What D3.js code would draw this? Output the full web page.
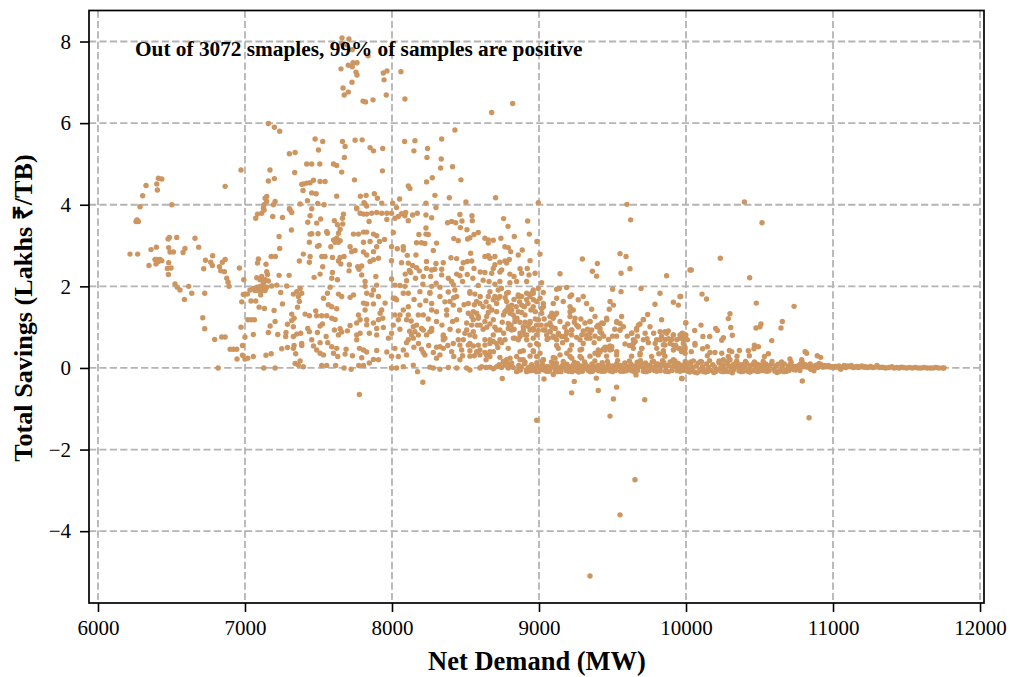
<!DOCTYPE html>
<html><head><meta charset="utf-8">
<script src="https://cdn.jsdelivr.net/npm/d3@7/dist/d3.min.js"></script>
<style>html,body{margin:0;padding:0;background:#fff}svg{display:block}text{font-family:"Liberation Serif","Times New Roman",serif;fill:#000}</style>
</head><body><div id="chart"></div>
<script>
const xTicks=[6000,7000,8000,9000,10000,11000,12000];
const yTicks=[-4,-2,0,2,4,6,8];
const xLabel="Net Demand (MW)";
const yLabel="Total Savings (Lakhs ₹/TB)";
const note="Out of 3072 smaples, 99% of samples are positive";
const topCluster=[[7660,8.09],[7707,8.06],[7658,7.96],[7692,7.92],[7730,7.8],[7837,7.65],[7703,7.42],[7735,7.48],[7762,7.48],[7730,7.38],[7653,7.33],[7755,7.25],[7762,7.18],[7728,7],[7667,6.86],[7703,6.76],[7675,6.69],[7803,6.54],[7820,6.52],[7871,6.57],[7961,6.69],[7946,7.06],[7941,7.23],[7966,7.28],[8061,7.26],[8088,6.59],[8678,6.26],[8821,6.48]];
const upperLeft=[[7159,5.99],[7200,5.9],[7236,5.8],[7477,5.61],[7529,5.55],[7663,5.55],[7749,5.58],[7797,5.59],[7681,5.43],[7851,5.4],[7874,5.32],[7937,5.38],[7500,5.34],[7302,5.25],[7341,5.28],[7676,5.16],[7420,5],[7454,5],[7509,5],[7602,5],[7624,4.96],[6973,4.85],[7170,4.85],[7935,4.83],[7338,4.79],[7658,4.8],[7200,4.64],[7159,4.58],[7745,4.61],[7466,4.6],[7511,4.57],[7545,4.57],[7397,4.51],[7420,4.53],[7443,4.54],[7386,4.5],[6865,4.45],[7395,4.35],[7454,4.29],[7484,4.27],[7624,4.21],[7785,4.21],[7824,4.23],[7880,4.27],[7901,4.16],[7148,4.2],[7137,4.16],[7205,4.08],[7130,4],[7425,4.1],[7375,4.02],[7495,4.03],[7538,4],[7810,4.05],[7828,3.97],[7930,4.04],[7760,3.92],[7302,3.9],[7454,3.9],[7125,3.92],[6411,4.65],[6434,4.63],[6327,4.47],[6400,4.51],[6404,4.36],[6304,4.22],[6286,3.95],[6502,4]];
const leftArc=[[6266,3.63],[6259,3.59],[6275,3.59],[6486,3.2],[6477,3.16],[6536,3.2],[6660,3.18],[6481,2.95],[6397,2.96],[6361,2.9],[6592,2.93],[6579,2.83],[6685,2.96],[6490,2.84],[6513,2.84],[6218,2.79],[6270,2.79],[6780,2.75],[6731,2.64],[6767,2.59],[6778,2.51],[6865,2.66],[6846,2.59],[6826,2.48],[6835,2.38],[6860,2.36],[6719,2.43],[6962,2.45],[6400,2.66],[6422,2.66],[6388,2.66],[6411,2.61],[6434,2.63],[6395,2.55],[6347,2.51],[6481,2.58],[6472,2.44],[6497,2.45],[6479,2.29],[6876,2.2],[6885,2.1],[6892,2],[6992,2.16],[6524,2.06],[6540,1.98],[6558,1.91],[6617,2],[6638,1.83],[6588,1.68],[6726,1.83],[6713,1.23],[6726,0.96],[6794,0.7],[6842,0.76],[6865,0.76],[6899,0.46],[6921,0.46],[6944,0.46],[6983,0.55],[6973,1],[7000,0.76],[6946,0.22],[6983,0.31],[7000,0.22],[7019,0.24],[7057,0.28],[6817,0],[7057,0.82],[7019,1.18],[7041,1.18],[7064,1.18],[6978,1.62],[7041,1.64],[7073,1.64],[7096,1.49],[7132,1.46],[7198,1.41],[7255,1.57]];
const knot7100=[[6989,1.8],[7016,1.81],[7034,1.91],[7057,1.95],[7080,1.98],[7103,2],[7125,2.01],[7148,1.98],[7068,1.9],[7091,1.9],[7114,1.9],[7137,1.9],[7080,2.21],[7114,2.24],[7137,2.16],[7159,2.13],[7103,2.16],[7125,2.08],[7148,2.36],[7153,2.29],[7232,2.27],[7300,2.27],[7216,2.03],[7284,2.01],[7182,2.01],[7243,1.85],[7107,1.79],[7091,2.67],[7085,2.57],[7143,2.54],[7178,2.73],[7207,2.73],[7236,2.93],[7232,3.22],[7316,3.38],[7073,3.67],[7085,3.77],[7114,3.79],[7130,3.87],[7148,4.08],[7189,3.71],[7255,3.69],[7307,3.87],[7318,3.81],[7193,4]];
const midUpper=[[7443,3.73],[7427,3.57],[7488,3.55],[7515,3.65],[7608,3.61],[7629,3.51],[7670,3.77],[7663,3.67],[7665,3.53],[7647,3.4],[7636,3.3],[7443,3.28],[7454,3.29],[7497,3.29],[7556,3.34],[7561,3.3],[7438,3.08],[7493,2.98],[7504,3],[7602,3.14],[7624,3.18],[7647,3.12],[7613,3.08],[7636,3.08],[7584,2.97],[7715,2.97],[7397,2.79],[7443,2.73],[7370,2.62],[7438,2.59],[7522,2.73],[7545,2.73],[7595,2.71],[7647,2.71],[7674,2.73],[7636,2.62],[7652,2.55],[7726,2.85],[7749,2.88],[7710,2.53],[7708,2.38],[7767,2.48],[7794,2.5],[7776,2.42],[7794,2.28],[7529,2.48],[7511,2.3],[7470,2.22],[7595,2.34],[7590,2.2],[7629,2.16],[7890,2.24],[7817,2.12],[7817,2],[7828,1.83],[7896,2.03],[7874,1.91],[7862,1.79],[7908,1.75],[7738,3.28],[7772,3.28],[7806,3.33],[7828,3.33],[7874,3.28],[7896,3.24],[7806,3.08],[7851,3.1],[7915,3.1],[7949,3.15],[7896,2.97],[7874,2.85],[7806,2.84],[7828,2.77],[7908,2.69],[7874,2.65],[7851,2.61],[7783,3.79],[7760,3.9],[7806,3.77],[7828,3.77],[7862,3.79],[7896,3.81],[7930,3.79],[7844,3.59],[7965,3.64],[7965,3.79],[7817,4.02]];
const midLower=[[7329,1.81],[7352,1.87],[7375,1.95],[7386,1.83],[7363,1.75],[7370,1.63],[7357,1.49],[7534,1.71],[7561,1.83],[7579,1.98],[7636,1.81],[7658,1.75],[7715,1.73],[7738,1.79],[7567,1.55],[7590,1.5],[7624,1.45],[7806,1.59],[7828,1.57],[7817,1.42],[7874,1.57],[7953,1.59],[7930,1.42],[7919,1.34],[7318,1.32],[7334,1.22],[7318,1.16],[7409,1.32],[7438,1.28],[7481,1.4],[7488,1.28],[7522,1.28],[7556,1.28],[7590,1.22],[7613,1.19],[7527,1.08],[7511,1.03],[7289,1.07],[7329,1.01],[7427,0.97],[7438,0.89],[7493,0.87],[7608,0.93],[7647,0.96],[7658,0.88],[7697,0.91],[7715,1.04],[7760,1.1],[7772,1.3],[7783,1.18],[7828,1.18],[7828,1.06],[7874,1.1],[7896,0.97],[7941,0.99],[7937,1.22],[7908,1.18],[7205,1.14],[7171,1.03],[7159,0.87],[7223,0.82],[7279,0.87],[7277,0.77],[7329,0.77],[7352,0.83],[7379,0.85],[7454,0.69],[7511,0.62],[7552,0.77],[7563,0.62],[7590,0.52],[7624,0.48],[7636,0.81],[7760,0.81],[7783,0.85],[7760,0.69],[7846,0.85],[7896,0.81],[7976,0.73],[7250,0.47],[7289,0.5],[7334,0.55],[7329,0.48],[7386,0.6],[7386,0.55],[7466,0.54],[7488,0.44],[7511,0.36],[7534,0.32],[7602,0.36],[7631,0.28],[7688,0.46],[7681,0.34],[7731,0.3],[7779,0.48],[7806,0.44],[7828,0.39],[7794,0.25],[7896,0.43],[7965,0.39],[7874,0.21],[7908,0.2],[7143,0.31],[7178,0.35],[7345,0.35],[7375,0.17],[7341,0.11],[7363,0.07],[7397,0.03],[7522,0.06],[7556,0.06],[7617,0.06],[7674,0],[7722,-0.03],[7774,0.06],[7806,0.06],[7846,0.12],[7128,0],[7205,0],[7778,-0.65]];
const rightUpper=[[8428,5.83],[8338,5.61],[8086,5.55],[8156,5.57],[8242,5.38],[8149,5.32],[8238,5.16],[8335,5.12],[8331,4.9],[8412,4.93],[8469,4.61],[8274,4.66],[8235,4.56],[8111,4.46],[8122,4.4],[8292,4.23],[8052,4.14],[8390,4.17],[8503,4.07],[8705,4.17],[8231,4.04],[8004,4.04],[8995,4.05],[9598,4.01],[9623,3.63],[8299,3.93],[8031,3.93],[7997,3.79],[8020,3.67],[8043,3.71],[8065,3.78],[8093,3.81],[8088,3.73],[8111,3.61],[8140,3.75],[8172,3.79],[8231,3.75],[8270,3.68],[8462,3.76],[8544,3.73],[8546,3.61],[8378,3.56],[8406,3.59],[8433,3.56],[8476,3.6],[8759,3.66],[8923,3.6],[8789,3.47],[8231,3.43],[8465,3.44],[8510,3.39],[8009,3.32],[8183,3.27],[8231,3.28],[8247,3.27],[8587,3.32],[8558,3.27],[8530,3.19],[8514,3.16],[8421,3.17],[8451,3.12],[8632,3.18],[8655,3.14],[8689,3.13],[8741,3.18],[8832,3.22],[8934,3.28],[8655,3.06],[8986,3.1],[8167,3.07],[8201,3.07],[8224,3.05],[8303,3.06],[7997,2.97],[8036,2.92],[8077,2.97],[8077,2.89],[8281,2.88],[8768,2.97],[8791,2.95],[8807,2.85],[8886,2.89],[8859,2.77],[8104,2.76],[8163,2.77],[8535,2.81],[9007,2.79],[9551,2.8],[9592,2.73],[9295,2.67],[9397,2.56],[8401,2.7],[8440,2.68],[8632,2.73],[8655,2.75],[8666,2.69],[8700,2.73],[8734,2.59],[8768,2.62],[8798,2.66],[8780,2.57],[8939,2.63],[7997,2.63],[8065,2.58],[8111,2.57],[8235,2.61],[8299,2.56],[8349,2.58],[8485,2.58],[8512,2.61],[8542,2.62],[8700,2.53],[8689,2.44],[8140,2.51],[8167,2.46],[8235,2.44],[8292,2.42],[8474,2.44],[8558,2.44],[8746,2.4],[8871,2.43],[8920,2.44],[8882,2.32],[8118,2.39],[8127,2.34],[8186,2.38],[8338,2.42],[8270,2.4],[8632,2.34],[8678,2.32],[8734,2.35],[8802,2.3],[8830,2.24],[8973,2.32],[8932,2.28],[8213,2.24],[8263,2.24],[8338,2.28],[8383,2.2],[8462,2.26],[8512,2.29],[8405,2.12],[8417,2.04],[8660,2.12],[8734,2.12],[8802,2.09],[8848,2.12],[8916,2.12],[9143,2.31],[9363,2.37],[9392,2.25],[9558,2.32],[9619,2.43],[9868,2.26],[9018,2.09],[8099,2.14],[7997,2.18],[8587,2.02],[9120,1.93],[9188,1.97],[9501,1.93],[9558,1.87],[9694,1.95],[9823,1.83],[9959,1.75],[10027,2.4],[8054,2.02],[8020,2.03],[8088,2],[8270,2],[8326,1.98],[8428,1.91],[8530,1.87],[8564,1.81],[8190,1.87],[8258,1.85],[8077,1.83],[8383,1.86],[8666,1.87],[8723,1.91],[8791,1.85],[8859,1.79],[8961,1.91],[8995,1.95],[9029,1.85],[9138,1.95],[9222,1.79],[9301,1.75],[8326,1.75],[8440,1.75],[8655,1.75],[8734,1.75],[8939,1.75],[8020,1.71]];
const rightLower=[[8009,1.71],[8031,1.67],[8111,1.83],[8258,1.83],[8394,1.63],[8530,1.83],[8576,1.63],[8598,1.58],[8519,1.58],[8700,1.75],[8712,1.58],[8780,1.83],[8859,1.75],[8882,1.75],[8961,1.83],[9007,1.71],[9029,1.58],[9120,1.71],[9097,1.58],[9165,1.63],[9211,1.75],[9267,1.67],[9324,1.58],[9483,1.63],[9506,1.54],[9789,1.56],[9914,1.61],[9948,1.54],[8111,1.5],[8190,1.54],[8270,1.58],[8270,1.42],[8303,1.38],[8417,1.54],[8372,1.42],[8791,1.5],[8814,1.42],[8859,1.38],[9018,1.46],[9211,1.38],[9233,1.42],[9358,1.44],[9478,1.44],[8020,1.3],[8054,1.3],[8077,1.42],[8111,1.3],[8179,1.3],[8213,1.3],[8372,1.3],[8519,1.34],[8576,1.34],[8655,1.36],[8712,1.38],[8825,1.3],[8882,1.36],[9075,1.26],[9120,1.34],[9211,1.26],[9245,1.22],[9381,1.26],[9562,1.26],[9739,1.31],[9834,1.18],[8043,1.18],[8099,1.18],[8167,1.05],[8247,1.2],[8303,1.14],[8412,1.14],[8440,1.18],[8553,1.18],[8587,1.22],[8632,1.14],[8689,1.18],[8791,1.09],[8836,1.14],[8939,1.14],[9097,1.22],[9143,1.14],[9347,1.14],[9460,1.22],[9437,1.09],[9528,1.12],[9551,1.09],[9710,1.19],[9687,1.08],[9999,1.11],[8009,1.05],[8054,0.95],[8145,1.01],[8201,0.97],[8270,0.97],[8542,1.05],[8580,1.05],[8666,1.08],[8791,0.97],[8893,1.01],[8984,1.05],[9052,1.05],[9086,1.01],[9256,1.05],[9403,1.05],[9415,0.97],[9574,1.01],[9755,1.01],[9664,0.97],[7997,0.85],[8156,0.89],[8179,0.81],[8213,0.93],[8270,0.91],[8451,0.91],[8508,0.93],[8553,0.89],[8712,0.93],[8734,0.93],[8814,0.93],[8893,0.89],[8939,0.93],[8961,0.97],[9041,0.93],[9075,0.89],[9109,0.97],[9188,0.89],[9222,0.93],[9267,1.01],[9301,0.91],[9347,0.85],[9426,0.85],[9551,0.93],[9630,0.85],[9664,0.93],[9857,0.89],[9880,0.91],[8235,0.81],[8349,0.81],[8530,0.81],[8689,0.81],[8871,0.77],[8905,0.81],[8984,0.81],[9052,0.81],[9097,0.78],[9131,0.81],[9222,0.81],[9256,0.75],[9324,0.81],[9381,0.78],[9528,0.78],[9834,0.78],[9914,0.81],[9959,0.81],[9999,0.81],[8111,0.69],[8145,0.73],[8360,0.73],[8349,0.69],[8451,0.69],[8485,0.69],[8564,0.77],[8632,0.69],[8689,0.65],[8734,0.69],[8836,0.73],[8859,0.69],[8916,0.69],[8961,0.73],[9063,0.73],[9120,0.69],[9177,0.77],[9188,0.69],[9279,0.69],[9347,0.73],[9472,0.7],[9642,0.69],[9710,0.69],[9800,0.69],[9857,0.69],[9902,0.7],[9982,0.69],[8020,0.48],[8099,0.62],[8149,0.51],[8201,0.46],[8326,0.52],[8303,0.51],[8462,0.56],[8417,0.6],[8519,0.56],[8553,0.54],[8587,0.56],[8632,0.56],[8666,0.6],[8712,0.6],[8746,0.62],[8791,0.48],[8939,0.56],[8984,0.6],[9131,0.48],[9222,0.56],[9301,0.6],[9483,0.54],[9449,0.51],[9585,0.59],[9642,0.6],[9744,0.62],[9857,0.56],[9914,0.56],[9948,0.48],[9993,0.51],[8077,0.44],[8213,0.38],[8281,0.38],[8349,0.48],[8406,0.4],[8474,0.44],[8530,0.42],[8576,0.4],[8632,0.38],[8666,0.4],[8871,0.4],[8893,0.42],[8961,0.42],[9211,0.44],[9290,0.46],[9403,0.44],[9437,0.46],[9494,0.46],[9699,0.48],[9846,0.42],[9970,0.4],[7997,0.29],[8043,0.28],[8099,0.32],[8326,0.32],[8303,0.24],[8224,0.32],[8462,0.2],[8530,0.29],[8598,0.32],[8644,0.32],[8734,0.26],[8848,0.28],[8939,0.29],[9007,0.36],[9097,0.26],[9143,0.32],[9211,0.28],[9290,0.24],[9347,0.29],[9403,0.32],[9460,0.29],[9528,0.32],[9630,0.29],[9687,0.32],[9766,0.28],[9857,0.29],[9914,0.2]];
const denseCore=[[8803,1.34],[8837,1.22],[8780,1.42],[8758,1.3],[8871,1.75],[8916,1.83],[8962,1.67],[9030,1.5],[9018,1.34],[8996,1.18],[8894,0.93],[8871,0.85],[8916,0.81],[9075,1.1],[9109,0.97],[9132,0.85],[9075,0.89],[9030,0.93],[9155,0.77],[9189,0.85],[9223,0.93],[9268,1.01],[9291,0.81],[9325,0.73],[9359,0.93],[9393,1.01],[9427,1.1],[9461,1.18],[9415,0.89],[9313,1.1],[9347,1.14],[9529,1.14],[9551,0.93],[9631,0.85],[9676,1.05],[9710,1.18],[9722,0.85],[9654,0.65],[9642,0.48],[9699,0.48],[9688,0.36],[9381,0.36],[9415,0.4],[9449,0.44],[9483,0.44],[9529,0.4],[9461,0.5],[9495,0.52],[9824,0.89],[9869,0.85],[9914,0.81],[9960,0.73],[9937,0.69],[9892,0.6],[9846,0.57],[9982,0.6],[9824,0.69],[9801,0.48],[9846,0.36],[9914,0.44],[9960,0.48],[9994,0.36],[9279,0.28],[9189,0.36],[9223,0.24],[9109,0.24],[9279,0.44],[8962,0.4],[8996,0.57],[9030,0.2],[8871,0.2],[8803,0.24],[8769,0.69],[8826,0.73],[8962,0.93],[8939,1.1],[9087,1.34],[9109,1.3],[9223,1.42],[9211,1.5],[8780,1.63],[8814,1.54],[8768,1.38],[8882,1.54],[8916,1.67],[8950,1.83],[8984,1.63],[8961,1.5],[8689,1.67],[8723,1.71],[8644,1.26],[8587,1.26],[8553,1.38],[8542,1.26],[8508,1.1],[8496,0.85],[8133,0.81],[8258,0.89],[8349,0.77],[8666,0.69],[8530,0.6],[8598,0.44],[8666,0.28],[8780,0.2],[8814,0.12],[8757,0.16],[8893,0.2],[8984,0.28],[9029,0.2]];
const coreFill=[[8700,2.05],[8745,1.95],[8770,1.72],[8830,1.68],[8845,1.5],[8868,1.62],[8900,1.5],[8925,1.58],[8945,1.42],[8975,1.38],[8905,1.3],[8850,1.22],[8870,1.12],[8810,1.05],[8830,0.95],[8905,1.12],[8925,1.02],[8975,1.2],[8995,0.92],[9015,1.05],[9035,1.2],[9055,0.7],[9095,0.75],[9120,0.55],[9160,0.62],[9175,1],[9195,1.08],[9240,1.12],[9285,1.2],[9330,0.95],[9375,0.62],[9410,0.72],[9440,0.78],[9500,0.78],[9515,0.95],[9600,0.78],[9615,0.55],[9670,0.78],[9735,0.72],[9780,0.85],[9790,0.6],[9815,0.35],[9880,0.72],[9930,0.55],[9975,0.85],[8600,1.75],[8620,1.5],[8640,1.62],[8660,1.5],[8680,1.42],[8600,1.05],[8620,0.95],[8645,1],[8700,1],[8750,1.12],[8760,0.85],[8720,0.5],[8690,0.4],[8640,0.2],[8560,0.3],[8480,0.3],[8420,0.28],[8380,0.55],[8250,0.55],[8180,0.6],[8120,0.9],[8130,1.15],[8340,1.05],[8395,0.95],[8460,1.42],[8490,1.55],[8560,1.55],[8420,1.72],[8360,1.62],[8150,1.68],[8230,1.65],[8210,2.05],[8300,2.08],[8440,2.3],[8480,2.12],[8550,2.2],[8600,2.35],[8620,2.15],[8090,2.3],[8160,2.2]];
const farRight=[[10397,4.07],[10517,3.56],[10233,2.69],[10036,2.4],[10433,2.21],[10109,1.81],[10140,1.69],[10478,1.59],[10735,1.51],[9964,1.75],[10299,1.33],[10288,1.21],[10655,1.14],[10646,0.98],[10510,1.08],[10503,1.01],[10476,0.98],[9998,1.1],[10102,1.05],[10202,0.97],[10213,0.92],[10304,0.99],[10059,0.92],[9986,0.83],[9982,0.77],[10115,0.77],[10161,0.77],[10254,0.74],[10243,0.68],[10315,0.8],[10583,0.67],[10009,0.69],[10061,0.6],[10061,0.56],[10145,0.52],[10113,0.47],[9993,0.46],[10036,0.4],[9966,0.44],[10163,0.38],[10197,0.38],[10243,0.36],[10145,0.3],[10295,0.43],[10311,0.4],[10363,0.43],[10347,0.29],[10424,0.42],[10431,0.3],[10465,0.56],[10492,0.52],[10462,0.47],[10560,0.35],[10533,0.28],[10810,0.4],[10821,0.36],[10893,0.3],[10916,0.26],[10707,0.22],[10787,0.2],[10288,0.28],[10254,0.2],[10032,0.15],[10106,0.15],[10299,0.2]];
const negatives=[[8750,-0.26],[9034,-0.27],[9097,-0.16],[9240,-0.33],[8210,-0.35],[8174,-0.09],[9390,-0.25],[9660,-0.17],[9973,-0.26],[9528,-0.47],[9403,-0.55],[9222,-0.61],[9506,-0.76],[9719,-0.78],[9483,-1.18],[8984,-1.28],[9653,-2.74],[9551,-3.6],[9347,-5.1],[10837,-1.22],[10791,-0.32],[9970,-0.26]];
const zeroBand=[[7997,0],[8031,0],[8077,0.03],[8145,0.07],[8258,0.02],[8281,0],[8326,-0.03],[8383,0.01],[8440,0],[8508,0],[8530,-0.05],[8598,0],[8666,0.02],[8712,0.03],[8768,0.07],[8791,0],[8848,-0.09],[8916,-0.09],[8984,-0.09],[8610,0.03],[8640,0.01],[8690,-0.02],[8730,0.08],[8745,0.01],[8780,0.12],[8805,0.04],[8825,0.01],[8862,0.06],[8880,0.02],[8900,0.1],[8930,0.02],[8950,0.08],[8970,0.01],[8995,0.05],[9012,-0.04],[9025,0.08],[9040,0.02],[9058,0.04],[9075,-0.02],[9090,0.07],[9105,0.03],[9118,0.12],[9132,0.02],[9146,-0.04],[9160,0.06],[9175,0.01],[9190,0.09],[9205,0.03],[9218,-0.03],[9232,0.07],[9248,0.02],[9262,0.11],[9276,0.01],[9290,0.05],[9305,-0.02],[9318,0.08],[9332,0.03],[9346,0],[9360,0.1],[9374,0.04],[9388,-0.03],[9402,0.06],[9416,0.02],[9430,0.13],[9444,0.03],[9458,-0.02],[9472,0.08],[9486,0.02],[9500,0.05],[9514,-0.01],[9528,0.1],[9542,0.03],[9556,0.06],[9570,0],[9584,0.12],[9598,0.04],[9612,0.02],[9626,0.09],[9640,-0.02],[9654,0.05],[9668,0.14],[9682,0.03],[9696,0.08],[9710,0.01],[9724,0.12],[9738,0.04],[9752,0.07],[9766,0.02],[9780,0.16],[9794,0.05],[9808,0.1],[9822,0.02],[9836,0.08],[9850,0.13],[9864,0.03],[9878,0.06],[9892,0.15],[9906,0.02],[9920,0.09],[9934,0.04],[9948,0.11],[9962,0.02],[9976,0.07],[9990,0.01],[10004,0.08],[10018,-0.03],[10030,0.09],[10044,0.02],[10058,-0.1],[10070,0.05],[10084,0.12],[10098,-0.03],[10112,0.03],[10126,-0.07],[10140,0.1],[10154,0.01],[10168,-0.06],[10182,0.08],[10196,0.02],[10210,-0.04],[10224,0.13],[10238,0.03],[10252,0.08],[10266,-0.02],[10280,0.11],[10294,0.05],[10308,0.01],[10322,-0.05],[10324,0.09],[10340,0.03],[10356,0.1],[10370,0.01],[10384,0.08],[10398,0.03],[10412,0.11],[10426,-0.02],[10440,0.06],[10444,-0.06],[10458,0.1],[10472,0.02],[10486,0.09],[10500,0],[10514,0.07],[10528,0.03],[10542,0.1],[10556,0.01],[10570,0.06],[10584,0.1],[10598,-0.03],[10612,0.05],[10626,0.09],[10640,-0.07],[10654,0.03],[10668,0.1],[10682,-0.04],[10696,0.05],[10710,0.08],[10724,0.01],[10738,0.04],[10752,0.02],[10766,0.06],[10780,0.1],[10790,0.14],[10800,0.03],[10812,0.08],[10824,0.02],[10836,0.05],[10848,-0.03],[10860,0.02],[10872,0.04],[10884,0.07],[10896,0.01],[10908,0.05],[10920,0.08],[10932,0.02],[10944,0.06],[10956,0.03],[10968,0.06],[10980,0.02],[10992,0.03],[11004,0.01],[11016,0.04],[11028,0.02],[11040,0.05],[11052,-0.03],[11064,0.02],[11076,0.06],[11088,0.01],[11100,0.05],[11112,0.03],[11124,0.06],[11136,0.01],[11148,0.02],[11160,0.04],[11172,0.01],[11184,0.03],[11196,0.05],[11208,0.02],[11220,0.03],[11232,0.01],[11244,0.02],[11256,0.04],[11270,0.01],[11285,0.02],[11300,0.06],[11315,0.01],[11330,0.02],[11345,0.01],[11360,0],[11380,0.01],[11400,0.03],[11415,0],[11435,0.01],[11450,0],[11465,0.02],[11480,0.01],[11500,0],[11520,0.01],[11540,0],[11560,0.01],[11580,0],[11600,0],[11620,0.01],[11640,0],[11660,0],[11680,0],[11700,0.01],[11720,0],[11745,0],[11755,0]];
const zeroEdge=[[8860,-0.06],[8905,0.14],[8940,-0.07],[8985,0.13],[9020,0.16],[9050,-0.08],[9085,0.15],[9125,-0.09],[9165,0.16],[9200,-0.08],[9240,0.14],[9270,-0.1],[9310,0.15],[9350,-0.09],[9380,0.17],[9425,-0.08],[9465,0.16],[9500,-0.09],[9535,0.18],[9575,-0.08],[9615,0.17],[9650,-0.1],[9690,0.18],[9730,-0.09],[9770,0.15],[9800,-0.08],[9840,0.18],[9880,-0.09],[9925,0.17],[9960,-0.08],[9995,0.16],[10025,-0.1],[10050,0.17],[10075,-0.12],[10100,0.16],[10135,-0.1],[10160,0.18],[10190,-0.11],[10225,0.17],[10255,-0.09],[10285,0.16],[10315,-0.12],[10345,0.17],[10375,-0.09],[10405,0.16],[10435,-0.1],[10465,0.15],[10495,-0.08],[10525,0.16],[10550,-0.08],[10585,0.16],[10620,-0.11],[10650,0.15],[10685,-0.08],[10715,0.14],[10745,-0.05],[10775,-0.06],[10845,0.1],[10870,-0.07],[10905,0.11],[8875,-0.05],[8915,-0.04],[8960,-0.06],[9000,-0.08],[9035,-0.05],[9070,-0.08],[9110,-0.06],[9150,-0.09],[9185,-0.06],[9225,-0.09],[9255,-0.07],[9295,-0.08],[9335,-0.06],[9365,-0.08],[9405,-0.07],[9445,-0.08],[9480,-0.07],[9520,-0.06],[9555,-0.08],[9595,-0.07],[9630,-0.07],[9670,-0.06],[9710,-0.08],[9750,-0.07],[9785,-0.06],[9825,-0.07],[9860,-0.08],[9905,-0.06],[9940,-0.07],[9980,-0.06],[10010,-0.08],[10040,-0.07],[10090,-0.08],[10120,-0.09],[10150,-0.08],[10205,-0.08],[10240,-0.08],[10275,-0.08],[10300,-0.09],[10360,-0.07],[10390,-0.08],[10420,-0.08],[10455,-0.07],[10480,-0.08],[10510,-0.06],[10535,-0.07],[10565,-0.07],[10605,-0.08],[10635,-0.08],[10665,-0.09],[10700,-0.06],[10730,-0.04]];

const points=[...topCluster,...upperLeft,...leftArc,...knot7100,...midUpper,...midLower,...rightUpper,...rightLower,...denseCore,...coreFill,...farRight,...negatives,...zeroBand,...zeroEdge];

const W=1010,H=677,L=89,R=984,T=10.5,B=603;
const svg=d3.select("#chart").append("svg").attr("width",W).attr("height",H);
const x=d3.scaleLinear().domain([5939,12027]).range([L,R]);
const y=d3.scaleLinear().domain([-5.76,8.76]).range([B,T]);
const grid=svg.append("g").attr("fill","none").attr("stroke","#b4b4b4").attr("stroke-width",1.8).attr("stroke-dasharray","7.2,3.2");
grid.selectAll("line.v").data(xTicks).join("line").attr("x1",d=>x(d)).attr("x2",d=>x(d)).attr("y1",T).attr("y2",B);
grid.selectAll("line.h").data(yTicks).join("line").attr("y1",d=>y(d)).attr("y2",d=>y(d)).attr("x1",L).attr("x2",R);
svg.append("g").attr("fill","#cd955f").selectAll("circle").data(points).join("circle")
  .attr("cx",d=>x(d[0])).attr("cy",d=>y(d[1])).attr("r",2.7);
svg.append("rect").attr("x",L).attr("y",T).attr("width",R-L).attr("height",B-T).attr("fill","none").attr("stroke","#000").attr("stroke-width",1.7);
const ax=svg.append("g").attr("transform",`translate(0,${B})`).call(d3.axisBottom(x).tickValues(xTicks).tickFormat(d3.format("d")).tickSize(9).tickPadding(8));
const ay=svg.append("g").attr("transform",`translate(${L},0)`).call(d3.axisLeft(y).tickValues(yTicks).tickSize(9).tickPadding(9));
[ax,ay].forEach(g=>{g.select(".domain").remove();g.selectAll("line").attr("stroke","#000").attr("stroke-width",1.6);g.selectAll("text").style("font-size","21px").style("font-family",'"Liberation Serif",serif');});
svg.append("text").attr("x",537).attr("y",670).attr("text-anchor","middle").style("font-size","26.5px").style("font-weight","bold").text(xLabel);
svg.append("text").attr("transform","translate(32,308) rotate(-90)").attr("text-anchor","middle").style("font-size","26.2px").style("font-weight","bold").text(yLabel);
svg.append("text").attr("x",135).attr("y",56).style("font-size","21.3px").style("font-weight","bold").text(note);
</script></body></html>
